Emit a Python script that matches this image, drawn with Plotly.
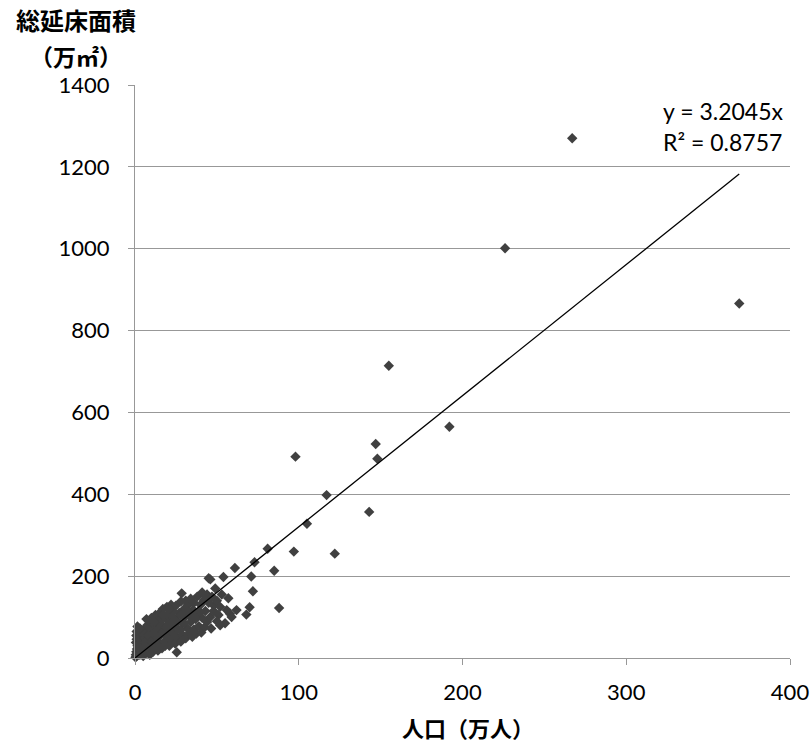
import plotly.graph_objects as go

# Outlying municipalities (population 万人, total floor area 万㎡)
outlier_pop = [267, 226, 369, 155, 192, 98, 147, 148, 117, 143, 105, 122, 97, 81, 85, 88,
               73, 72, 71, 70, 68, 62, 61, 57, 54, 46, 45, 55, 51, 48, 58, 59, 52, 56,
               28.5, 25.5, 1.5]
outlier_area = [1270, 1001, 866, 714, 565, 492, 523, 487, 398, 357, 328, 255, 260, 267, 213, 122,
                234, 163, 199, 124, 106, 117, 220, 146, 198, 192, 195, 85, 105, 129, 108, 100, 80, 117,
                158, 14, 77]

# Dense cluster of small municipalities
cluster_pop = [0.3, 0.5, 0.8, 1, 1.2, 1.5, 0.6, 1, 0.8, 1.8, 2, 2.5, 2.2, 3, 3, 3.5, 4, 4, 4.5, 5, 5, 5.5, 5, 6,
               6.5, 7, 7, 7.5, 8, 8, 8.5, 9, 9, 9.5, 10, 10, 11, 11, 11.5, 12, 12, 12.5,
               13, 13.5, 14, 14, 15, 15, 15.5, 16, 16.5, 17, 17, 18, 18, 18.5, 19, 19.5, 20, 20,
               21, 21, 22, 22, 23, 23, 23.5, 24, 24.5, 25, 25, 26, 26.5, 27, 27.5, 28, 28,
               29, 29.5, 30, 30.5, 31, 31, 32, 32.5, 33, 33.5, 34, 34, 35, 35.5, 36, 36,
               37, 37.5, 38, 38.5, 39, 40, 40.5, 41, 41, 42, 42.5, 43, 44, 44,
               45, 46, 46.5, 47, 48, 49, 50, 50, 52, 53,
               2, 4, 6, 8, 10, 14, 18, 22, 26, 30, 34, 38, 16, 20, 24, 28, 32, 36, 40,
               1, 3, 7, 12, 17, 21]
cluster_area = [2, 8, 15, 4, 22, 30, 38, 46, 55, 12, 62, 20, 35, 8, 50, 28, 15, 42, 60, 5, 33, 70, 22, 48,
                12, 30, 62, 80, 20, 45, 90, 8, 35, 70, 55, 98, 15, 40, 82, 25, 62, 105,
                45, 92, 18, 70, 35, 110, 55, 82, 24, 120, 65, 40, 98, 30, 75, 125, 52, 108,
                30, 88, 65, 130, 42, 115, 100, 75, 35, 55, 128, 90, 45, 110, 68, 138, 40,
                85, 55, 120, 100, 48, 140, 72, 130, 60, 105, 88, 145, 52, 118, 70, 135,
                95, 60, 150, 112, 78, 130, 62, 160, 98, 142, 75, 115, 88, 155,
                135, 100, 72, 150, 115, 170, 90, 140, 125, 155,
                25, 28, 38, 55, 40, 50, 60, 80, 72, 85, 100, 110, 95, 80, 95, 105, 115, 100, 112,
                65, 72, 95, 88, 105, 120]

# Trendline (regression through origin), label text
slope = 3.2045
eq_text = "y = 3.2045x"
r2_text = "R² = 0.8757"

x_ticks = [0, 100, 200, 300, 400]
y_ticks = [0, 200, 400, 600, 800, 1000, 1200, 1400]

pop = outlier_pop + cluster_pop
area = outlier_area + cluster_area

W, H = 812, 745
L, R, T, B = 135, 22, 85, 87
pw, ph = W - L - R, H - T - B

def px(xp):  # page pixel -> paper x
    return (xp - L) / pw

def py(yp):  # page pixel -> paper y
    return (H - B - yp) / ph

fig = go.Figure()
fig.add_trace(go.Scatter(
    x=pop, y=area, mode="markers",
    marker=dict(symbol="diamond", size=8, color="#404040", line=dict(width=0)),
    cliponaxis=False, showlegend=False, hoverinfo="skip"))

xmax = max(pop)
fig.add_trace(go.Scatter(
    x=[0, xmax], y=[0, slope * xmax], mode="lines",
    line=dict(color="black", width=1.3), cliponaxis=False,
    showlegend=False, hoverinfo="skip"))

grid = "#989898"
tick_font = dict(family="Lato", size=22, color="black")
fig.update_layout(
    width=W, height=H, autosize=False,
    margin=dict(l=L, r=R, t=T, b=B),
    paper_bgcolor="white", plot_bgcolor="white",
    xaxis=dict(range=[0, 400], tickvals=x_ticks, showgrid=False, zeroline=False,
               automargin=False,
               showline=True, linecolor=grid, linewidth=1.3,
               ticks="outside", ticklen=6, tickcolor=grid, tickwidth=1.3,
               tickfont=tick_font, ticklabelstandoff=8),
    yaxis=dict(range=[0, 1400], tickvals=y_ticks, showgrid=True, gridcolor=grid, gridwidth=1.3,
               zeroline=False, automargin=False,
               showline=True, linecolor=grid, linewidth=1.3,
               ticks="outside", ticklen=6, tickcolor=grid, tickwidth=1.3,
               tickfont=tick_font, ticklabelstandoff=14),
)

cjk = "Noto Sans CJK JP"
fig.add_annotation(text="<b>総延床面積</b>", xref="paper", yref="paper",
                   x=px(76), y=py(20), showarrow=False, xanchor="center", yanchor="middle",
                   borderpad=0, font=dict(family=cjk, size=24, color="black"))
fig.add_annotation(text="<b>（万㎡）</b>", xref="paper", yref="paper",
                   x=px(76), y=py(56), showarrow=False, xanchor="center", yanchor="middle",
                   borderpad=0, font=dict(family=cjk, size=23, color="black"))
fig.add_annotation(text="<b>人口（万人）</b>", xref="paper", yref="paper",
                   x=px(468), y=py(727), showarrow=False, xanchor="center", yanchor="middle",
                   borderpad=0, font=dict(family=cjk, size=22, color="black"))
fig.add_annotation(text=eq_text, xref="paper", yref="paper",
                   x=px(661), y=py(111), showarrow=False, xanchor="left", yanchor="middle",
                   font=dict(family="Lato", size=23, color="black"))
fig.add_annotation(text=r2_text, xref="paper", yref="paper",
                   x=px(661), y=py(142), showarrow=False, xanchor="left", yanchor="middle",
                   font=dict(family="Lato", size=23, color="black"))

fig.write_html("out.html",
               config=dict(displayModeBar=False, responsive=False),
               post_script="document.body.style.margin='0';")
